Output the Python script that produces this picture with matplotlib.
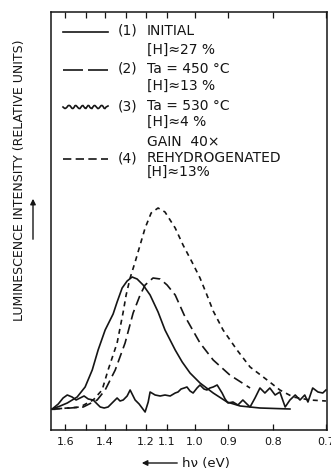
import numpy as np
import matplotlib
matplotlib.use("Agg")
import matplotlib.pyplot as plt
from matplotlib.lines import Line2D
from matplotlib.ticker import FixedLocator, FixedFormatter, NullLocator

plt.rcParams['font.family'] = ['DejaVu Sans']

# photon energy ticks; the energy axis is not uniform, so keep the mapping
# from eV to position along the axis as a lookup table
tick_ev = [1.6, 1.5, 1.4, 1.3, 1.2, 1.1, 1.0, 0.9, 0.8, 0.7]
tick_text = ['1.6', '', '1.4', '', '1.2', '1.1', '1.0', '0.9', '0.8', '0.7']
scale_ev = [1.8, 1.7, 1.6, 1.5, 1.4, 1.3, 1.2, 1.1, 1.0, 0.9, 0.8, 0.7, 0.6]
scale_pos = [23, 44, 65, 86, 105, 126, 146, 167, 195, 228, 273, 326, 379]

# (1) initial film, [H] ~ 27 %
initial_ev = [1.662, 1.624, 1.590, 1.543, 1.505, 1.468, 1.437, 1.400, 1.362,
              1.343, 1.319, 1.295, 1.270, 1.245, 1.215, 1.181, 1.143, 1.110,
              1.071, 1.046, 1.018, 0.985, 0.945, 0.903, 0.873, 0.829, 0.768]
initial_int = [0, 1.5, 3, 6, 11, 19.5, 29.5, 39.5, 47.5,
               53.5, 60.5, 64, 66, 65, 62, 57, 48.5, 39.5,
               29.5, 23.5, 18, 13, 8, 3.5, 1.5, 0.5, 0]

# (2) annealed at 450 C, [H] ~ 13 %
ta450_ev = [1.662, 1.576, 1.514, 1.442, 1.400, 1.352, 1.305, 1.265, 1.230,
            1.205, 1.167, 1.133, 1.100, 1.071, 1.039, 0.985, 0.945, 0.896,
            0.851]
ta450_int = [0, 0.5, 1, 4.5, 9.5, 19.5, 33, 48, 57,
             62, 65.5, 65, 62, 57, 47, 33, 24.5, 17,
             10.5]

# (3) annealed at 530 C, [H] ~ 4 %, gain 40x
ta530_ev = [1.662, 1.633, 1.610, 1.590, 1.567, 1.548, 1.529, 1.510, 1.489,
            1.463, 1.442, 1.426, 1.405, 1.386, 1.367, 1.343, 1.329, 1.314,
            1.295, 1.280, 1.265, 1.255, 1.235, 1.220, 1.205, 1.190, 1.181,
            1.157, 1.133, 1.110, 1.089, 1.071, 1.061, 1.050, 1.039, 1.029,
            1.018, 1.007, 0.994, 0.985, 0.973, 0.964, 0.955, 0.945, 0.933,
            0.918, 0.909, 0.900, 0.889, 0.878, 0.867, 0.858, 0.851, 0.840,
            0.829, 0.818, 0.807, 0.796, 0.787, 0.777, 0.768, 0.758, 0.749,
            0.740, 0.734, 0.725, 0.715, 0.706, 0.700]
ta530_int = [0, 2.5, 5.5, 7, 6, 4.5, 5.5, 6.5, 5,
             4.5, 2.5, 1, 0.5, 1, 3, 5.5, 4, 4.5,
             6.5, 9.5, 6.5, 4.5, 2.5, 0.5, -1.5, 3.5, 8.5,
             7, 6.5, 7, 6.5, 8, 8.5, 10, 10.5, 11,
             9, 8, 10.5, 12, 10, 9.5, 10.5, 11, 12,
             8, 5, 3, 3.5, 2, 4.5, 2.5, 1, 5.5,
             10.5, 8, 10.5, 7, 8.5, 1, 4.5, 7, 4.5,
             7, 3.5, 10.5, 8.5, 8, 9.5]

# (4) rehydrogenated, [H] ~ 13 %
rehydro_ev = [1.648, 1.529, 1.463, 1.416, 1.386, 1.343, 1.314, 1.300, 1.280,
              1.255, 1.205, 1.176, 1.143, 1.110, 1.071, 1.043, 1.011, 0.985,
              0.964, 0.945, 0.915, 0.880, 0.851, 0.813, 0.787, 0.762, 0.730,
              0.700]
rehydro_int = [0, 1, 4.5, 9.5, 19.5, 33, 48.5, 57, 65.5,
               73.5, 90.5, 98, 100.5, 98.5, 90.5, 82, 73.5, 65.5,
               57, 49, 39.5, 29.5, 21, 14.5, 9.5, 6, 4.5,
               4]

INK = '#151515'
W, H = 331, 473


def fig_xy(x, y):
    # pixel position (from top left) -> figure fraction
    return x / W, 1 - y / H


# the scale has to increase with energy, so work with minus the position
def ev_to_u(ev):
    return -np.interp(-np.asarray(ev, float), -np.array(scale_ev), scale_pos)


def u_to_ev(u):
    return -np.interp(-np.asarray(u, float), scale_pos, -np.array(scale_ev))


fig = plt.figure(figsize=(W / 100, H / 100), dpi=100)
ax = fig.add_axes([50.5 / W, 1 - 430 / H, 276.5 / W, 418 / H])
ax.set_xscale('function', functions=(ev_to_u, u_to_ev))

lw = 1.2
ax.plot(initial_ev, initial_int, color=INK, lw=lw)
ax.plot(ta450_ev, ta450_int, color=INK, lw=lw, dashes=(6, 3))
ax.plot(ta530_ev, ta530_int, color=INK, lw=lw)
ax.plot(rehydro_ev, rehydro_int, color=INK, lw=lw, dashes=(3, 2.6))

ax.set_xlim(1.67, 0.698)
ax.set_ylim(-10.5, 198.5)

ax.xaxis.set_major_locator(FixedLocator(tick_ev))
ax.xaxis.set_major_formatter(FixedFormatter(tick_text))
ax.xaxis.set_minor_locator(NullLocator())
ax.tick_params(axis='x', direction='in', length=4.5, width=0.9, top=True,
               labelsize=8, pad=5, colors=INK)
ax.set_yticks([0])
ax.tick_params(axis='y', direction='in', length=3, width=0.9,
               labelleft=False, colors=INK)
for sp in ax.spines.values():
    sp.set_linewidth(1.1)
    sp.set_color(INK)

# key drawn by hand so the second text line sits under the first
rows = [
    (32, None, None, '(1)', 'INITIAL'),
    (70, (12, 3), None, '(2)', 'Ta = 450 °C'),
    (107, None, (1.6, 7, 1.5), '(3)', 'Ta = 530 °C'),
    (159, (5, 2.6), None, '(4)', 'REHYDROGENATED'),
]
for y, dash, sketch, num, text in rows:
    x0, yy = fig_xy(63, y)
    x1, _ = fig_xy(108, y)
    key = Line2D([x0, x1], [yy, yy], transform=fig.transFigure,
                 color=INK, lw=lw)
    if dash is not None:
        key.set_dashes(dash)
    if sketch is not None:
        key.set_sketch_params(*sketch)
    fig.add_artist(key)
    fig.text(*fig_xy(118, y - 1), num, fontsize=10, va='center', color=INK)
    fig.text(*fig_xy(147, y - 1), text, fontsize=10, va='center', color=INK)

extra = [(50, '[H]\u224827 %'), (86, '[H]\u224813 %'), (122, '[H]\u22484 %'),
         (142, 'GAIN  40×'), (172, '[H]\u224813%')]
for y, text in extra:
    fig.text(*fig_xy(147, y), text, fontsize=10, va='center', color=INK)

# axis titles with their arrows
fig.text(*fig_xy(20, 180), 'LUMINESCENCE INTENSITY (RELATIVE UNITS)',
         rotation=90, ha='center', va='center', fontsize=9, color=INK)
fig.add_artist(plt.Annotation('', xy=fig_xy(33, 196), xytext=fig_xy(33, 242),
                              xycoords='figure fraction',
                              arrowprops=dict(arrowstyle='-|>', lw=1,
                                              color=INK, mutation_scale=8)))
fig.add_artist(plt.Annotation('', xy=fig_xy(139, 463), xytext=fig_xy(180, 463),
                              xycoords='figure fraction',
                              arrowprops=dict(arrowstyle='-|>', lw=1,
                                              color=INK, mutation_scale=8)))
fig.text(*fig_xy(182, 463), 'h\u03bd (eV)', fontsize=9.5, va='center',
         color=INK)

fig.savefig('out.png', dpi=100, facecolor='white')
